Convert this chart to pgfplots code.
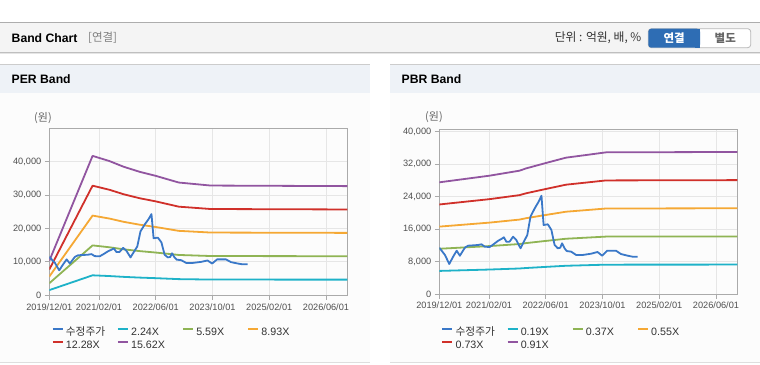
\documentclass[border=0pt]{standalone}
\usepackage{pgfplots}
\usepackage{pgfplotstable}
\pgfplotsset{compat=1.18}
\usepackage{fontspec}
\setmainfont{Liberation Sans}
\newfontfamily\kr{Noto Sans CJK KR}
\definecolor{cprice}{RGB}{58,120,200}
\definecolor{ccyan}{RGB}{30,178,200}
\definecolor{cgreen}{RGB}{143,180,84}
\definecolor{corange}{RGB}{245,168,52}
\definecolor{cred}{RGB}{208,48,42}
\definecolor{cpurple}{RGB}{145,85,160}
\definecolor{cframe}{RGB}{170,170,170}
\definecolor{cgrid}{RGB}{230,230,230}
\definecolor{ctick}{RGB}{80,80,80}
\definecolor{clegtxt}{RGB}{51,51,51}
\definecolor{hdrbar}{RGB}{244,244,244}
\definecolor{panelhdr}{RGB}{238,242,247}
\definecolor{panelbg}{RGB}{252,252,252}
\definecolor{btnblue}{RGB}{46,109,180}

\pgfplotstableread{
m v
0 11470
1.6 9674
2.8 7458
3.9 9255
4.9 10732
5.8 9501
7.2 11470
8.1 11963
10.9 12135
11.9 12308
12.8 11717
14.2 11643
15.4 12381
16.6 13194
17.5 13612
18.2 14030
18.9 12947
19.8 12947
20.8 14178
21.7 13366
22.9 11323
23.6 12554
24.8 14597
25.7 19101
26.9 21169
28.0 22794
28.8 24270
29.4 17058
30.6 17230
31.6 15827
32.5 12135
33.4 11323
34.1 11470
34.6 12554
35.3 11323
35.9 10658
37.2 10486
38.6 9674
40.4 9674
42.8 9994
44.6 10412
45.9 9501
47.3 10732
49.8 10732
51.2 9920
53.1 9501
54.5 9255
55.9 9255
}\pricetab

\pgfplotstableread{
m cyan green orange red purple
0 1550 3600 5600 7700 10300
12.2 5976 14914 23825 32763 41670
17 5750 14350 22923 31523 40100
21 5506 13740 21950 30184 38400
25.5 5291 13204 21093 29005 36900
30 5121 12779 20414 28072 35700
36.5 4832 12058 19262 26488 33700
40.5 4776 11918 19039 26181 33300
45.5 4704 11739 18753 25788 32800
84 4679 11678 18655 25653 32630
}\pertab

\pgfplotstableread{
m cyan green orange red purple
0 5755 11207 16660 22112 27564
14.2 6097 11873 17650 23426 29202
22.6 6354 12373 18392 24411 30430
24.5 6473 12606 18739 24871 31004
29.7 6732 13109 19487 25864 32241
35.7 7022 13675 20328 26981 33634
41.4 7159 13942 20724 27506 34289
47 7296 14208 21120 28032 34944
84 7315 14245 21175 28105 35035
}\pbrtab

\pgfplotsset{
  bandaxis/.style={
    scale only axis, width=298pt, anchor=south west,
    xmin=0, xmax=84, ymin=0,
    xtick={0,14,30,46,62,78},
    xticklabels={2019/12/01,2021/02/01,2022/06/01,2023/10/01,2025/02/01,2026/06/01},
    grid=major, major grid style={cgrid, line width=0.7pt},
    axis line style={cframe, line width=0.9pt},
    tick align=outside, major tick length=4.5pt,
    tick style={cframe, line width=0.7pt},
    xtick pos=bottom, ytick pos=left,
    ticklabel style={font=\fontsize{9.2}{10}\selectfont, text=ctick},
    scaled y ticks=false,
    /pgf/number format/assume math mode=true,
    /pgf/number format/1000 sep={,},
    legend columns=4, legend cell align=left,
    legend style={draw=none, fill=none, inner sep=0pt, outer sep=0pt,
      anchor=north west, font=\fontsize{10.7}{12}\selectfont, text=clegtxt,
      row sep=2.6pt, column sep=0pt,
      nodes={inner sep=0pt, text height=8pt, text depth=2.5pt}},
    /tikz/every odd column/.append style={column sep=2pt},
    legend image code/.code={\draw[line width=2.2pt] (0pt,3.8pt) -- (10pt,3.8pt);},
    every axis plot/.append style={line width=1.8pt, no markers, line join=round},
  }
}

\begin{document}
\begin{tikzpicture}
\path[use as bounding box] (0pt,0pt) rectangle (760pt,364pt);
\begin{scope}[x=1pt, y=-1pt, shift={(0pt,364pt)}]
  \fill[white] (0,0) rectangle (760,364);
  % top header bar
  \fill[hdrbar] (0,22.5) rectangle (760,52.5);
  \draw[black!32, line width=0.9pt] (0,22.5) -- (760,22.5);
  \draw[black!25, line width=0.9pt] (0,52.5) -- (760,52.5);
  \draw[black!10, line width=1pt] (0,53.6) -- (760,53.6);
  \node[anchor=west, inner sep=0pt, font=\bfseries\fontsize{12.2}{14}\selectfont] at (11.5,38) {Band Chart};
  \node[anchor=west, inner sep=0pt, text=black!50, font=\kr\fontsize{11.5}{13}\selectfont] at (88,38) {[연결]};
  \node[anchor=east, inner sep=0pt, text=clegtxt, font=\kr\fontsize{11.8}{13}\selectfont] at (641.5,38) {단위 : 억원, 배, \%};
  \draw[black!28, fill=white, rounded corners=3pt, line width=0.8pt] (648.3,28.7) rectangle (750.7,47.7);
  \fill[btnblue, rounded corners=3pt] (648.3,28.7) rectangle (700,47.7);
  \fill[btnblue] (695,28.7) rectangle (700,47.7);
  \node[text=white, inner sep=0pt, font=\kr\bfseries\fontsize{11.5}{13}\selectfont] at (674.2,38) {연결};
  \node[text=black!60, inner sep=0pt, font=\kr\bfseries\fontsize{11.5}{13}\selectfont] at (725.3,38) {별도};
  % panels
  \fill[panelbg] (0,64) rectangle (370,362.5);
  \fill[panelhdr] (0,64) rectangle (370,93);
  \draw[black!20, line width=0.9pt] (0,64) -- (370,64);
  \draw[black!13, line width=0.9pt] (0,362.5) -- (370,362.5);
  \fill[panelbg] (390,64) rectangle (760,362.5);
  \fill[panelhdr] (390,64) rectangle (760,93);
  \draw[black!20, line width=0.9pt] (390,64) -- (760,64);
  \draw[black!13, line width=0.9pt] (390,362.5) -- (760,362.5);
  \node[anchor=west, inner sep=0pt, font=\bfseries\fontsize{12.2}{14}\selectfont] at (11.5,79.5) {PER Band};
  \node[anchor=west, inner sep=0pt, font=\bfseries\fontsize{12.2}{14}\selectfont] at (401.5,79.5) {PBR Band};
  \node[inner sep=0pt, text=black!60, font=\kr\fontsize{11}{13}\selectfont] at (43,118) {(원)};
  \node[inner sep=0pt, text=black!60, font=\kr\fontsize{11}{13}\selectfont] at (434,117.3) {(원)};
\end{scope}

% PER axis
\begin{axis}[bandaxis, at={(49.3pt,68.7pt)}, height=167.3pt, ymax=50000,
  ytick={0,10000,20000,30000,40000},
  legend style={at={(0.008,-0.192)}}]
  \addlegendimage{cprice}\addlegendentry{\makebox[51pt][l]{\kr 수정주가}}
  \addlegendimage{ccyan}\addlegendentry{\makebox[51pt][l]{2.24X}}
  \addlegendimage{cgreen}\addlegendentry{\makebox[51pt][l]{5.59X}}
  \addlegendimage{corange}\addlegendentry{\makebox[51pt][l]{8.93X}}
  \addlegendimage{cred}\addlegendentry{\makebox[51pt][l]{12.28X}}
  \addlegendimage{cpurple}\addlegendentry{\makebox[51pt][l]{15.62X}}
  \addplot[ccyan, forget plot] table[x=m, y=cyan] {\pertab};
  \addplot[cgreen, forget plot] table[x=m, y=green] {\pertab};
  \addplot[corange, forget plot] table[x=m, y=orange] {\pertab};
  \addplot[cred, forget plot] table[x=m, y=red] {\pertab};
  \addplot[cpurple, forget plot] table[x=m, y=purple] {\pertab};
  \addplot[cprice, forget plot] table[x=m, y=v] {\pricetab};
\end{axis}

% PBR axis
\begin{axis}[bandaxis, at={(439.3pt,69.7pt)}, height=165.3pt, ymax=40690,
  ytick={0,8000,16000,24000,32000,40000},
  legend style={at={(0.007,-0.2)}}]
  \addlegendimage{cprice}\addlegendentry{\makebox[51pt][l]{\kr 수정주가}}
  \addlegendimage{ccyan}\addlegendentry{\makebox[51pt][l]{0.19X}}
  \addlegendimage{cgreen}\addlegendentry{\makebox[51pt][l]{0.37X}}
  \addlegendimage{corange}\addlegendentry{\makebox[51pt][l]{0.55X}}
  \addlegendimage{cred}\addlegendentry{\makebox[51pt][l]{0.73X}}
  \addlegendimage{cpurple}\addlegendentry{\makebox[51pt][l]{0.91X}}
  \addplot[ccyan, forget plot] table[x=m, y=cyan] {\pbrtab};
  \addplot[cgreen, forget plot] table[x=m, y=green] {\pbrtab};
  \addplot[corange, forget plot] table[x=m, y=orange] {\pbrtab};
  \addplot[cred, forget plot] table[x=m, y=red] {\pbrtab};
  \addplot[cpurple, forget plot] table[x=m, y=purple] {\pbrtab};
  \addplot[cprice, forget plot] table[x=m, y=v] {\pricetab};
\end{axis}
\end{tikzpicture}
\end{document}
